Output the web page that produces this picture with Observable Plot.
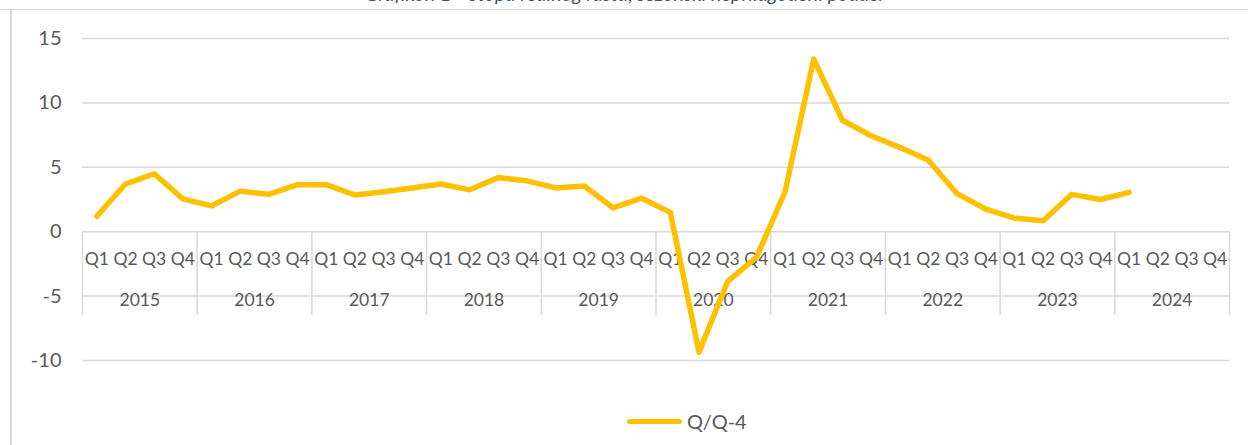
<!DOCTYPE html>
<html>
<head>
<meta charset="utf-8">
<script src="https://cdn.jsdelivr.net/npm/d3@7"></script>
<script src="https://cdn.jsdelivr.net/npm/@observablehq/plot@0.6"></script>
<style>
  body { margin: 0; background: #fff; }
  #wrap { position: relative; width: 1248px; height: 445px; overflow: hidden; font-family: Lato, "Open Sans", sans-serif; background: #fff; }
  #title { position: absolute; left: 0; top: 0; width: 1248px; height: 9px; overflow: hidden; border-bottom: 1.5px solid #d9d9d9; }
  #title div { position: absolute; left: 0; width: 1248px; top: -19px; line-height: 24px; font-size: 20px; font-style: italic; color: #44546A; text-align: center; }
  #leftline { position: absolute; left: 10px; top: 9px; width: 2px; height: 436px; background: #d9d9d9; }
  #chart { position: absolute; left: 0; top: 0; }
  #legend { position: absolute; left: 627px; top: 407px; height: 28px; display: flex; align-items: center; font-size: 20px; color: #595959; }
  #legend .sw { width: 55px; height: 5px; border-radius: 3px; background: #FFC000; margin-right: 5px; }
</style>
</head>
<body>
<div id="wrap">
  <div id="title"><div>Grafikon 1 - Stopa realnog rasta, sezonski neprilagođeni podaci</div></div>
  <div id="leftline"></div>
  <div id="chart"></div>
  <div id="legend"><span class="sw"></span><span id="legendText"></span></div>
</div>
<script>
const years = ["2015", "2016", "2017", "2018", "2019", "2020", "2021", "2022", "2023", "2024"];
const quarters = ["Q1", "Q2", "Q3", "Q4"];
const seriesName = "Q/Q-4";
const values = [
  1.2, 3.7, 4.5, 2.55,
  2.0, 3.15, 2.9, 3.65,
  3.65, 2.85, 3.1, 3.4,
  3.7, 3.25, 4.2, 3.95,
  3.4, 3.55, 1.85, 2.6,
  1.5, -9.35, -3.85, -2.0,
  3.1, 13.4, 8.65, 7.45,
  6.55, 5.55, 2.95, 1.75,
  1.05, 0.85, 2.9, 2.5,
  3.05, null, null, null
];
const yTicks = [15, 10, 5, 0, -5, -10];

const data = [];
years.forEach((yr, yi) => quarters.forEach((q, qi) => {
  const idx = yi * quarters.length + qi;
  data.push({idx, year: yr, q, v: values[idx]});
}));
const yearBounds = d3.range(0, years.length + 1).map(i => i * quarters.length);

const chart = Plot.plot({
  width: 1248,
  height: 395,
  marginLeft: 82,
  marginRight: 19,
  marginTop: 38,
  marginBottom: 35,
  style: { fontFamily: "Lato, 'Open Sans', sans-serif", fontSize: "20px", color: "#595959", background: "transparent" },
  x: { domain: [0, years.length * quarters.length], axis: null },
  y: { domain: [-10, 15], axis: null },
  marks: [
    Plot.ruleY(yTicks, { stroke: "#d9d9d9", strokeWidth: 1.5 }),
    Plot.ruleX(yearBounds, { x: d => d, y1: 0, y2: 0, insetBottom: -84, stroke: "#d9d9d9", strokeWidth: 1.5 }),
    Plot.axisY(yTicks, { tickSize: 0, tickPadding: 21, fontSize: 20, fill: "#595959", label: null, tickFormat: d => String(d) }),
    Plot.text(data, { x: d => d.idx + 0.5, y: 0, text: "q", dy: 28, fontSize: 17.5, fill: "#595959" }),
    Plot.text(years, { x: (d, i) => i * quarters.length + quarters.length / 2, y: 0, text: d => d, dy: 69, fontSize: 17.5, fill: "#595959" }),
    Plot.line(data, { x: d => d.idx + 0.5, y: "v", stroke: "#FFC000", strokeWidth: 5.5, strokeLinejoin: "round", strokeLinecap: "round" })
  ]
});
document.getElementById("chart").appendChild(chart);
document.getElementById("legendText").textContent = seriesName;
</script>
</body>
</html>
